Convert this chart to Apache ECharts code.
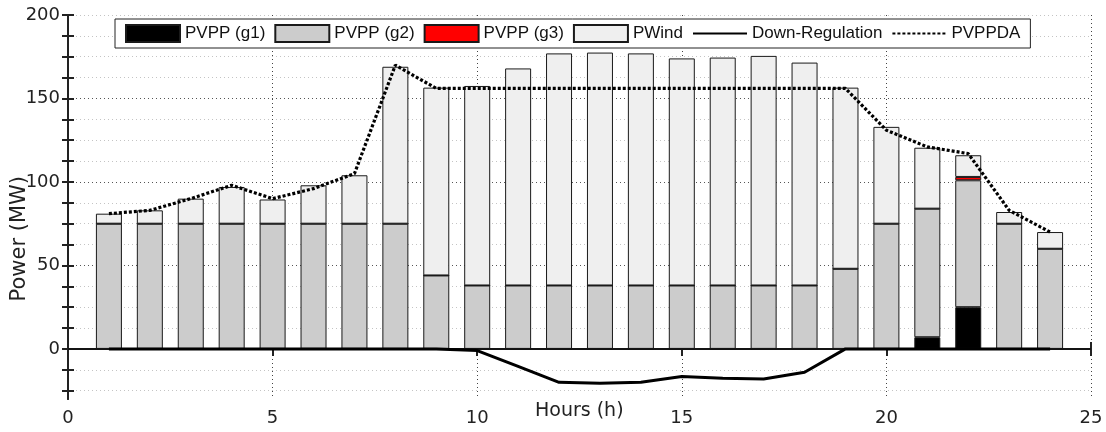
<!DOCTYPE html>
<html>
<head>
<meta charset="utf-8">
<script src="https://cdn.jsdelivr.net/npm/echarts@6/dist/echarts.min.js"></script>
<style>html,body{margin:0;padding:0;background:#fff;}#c{width:1106px;height:432px;}</style>
</head>
<body>
<div id="c"></div>
<script>
const hours = [1,2,3,4,5,6,7,8,9,10,11,12,13,14,15,16,17,18,19,20,21,22,23,24];
const pvppG1 = [0,0,0,0,0,0,0,0,0,0,0,0,0,0,0,0,0,0,0,0,7,25,0,0];
const pvppG2 = [75,75,75,75,75,75,75,75,44,38,38,38,38,38,38,38,38,38,48,75,77,76,75,60];
const pvppG3 = [0,0,0,0,0,0,0,0,0,0,0,0,0,0,0,0,0,0,0,0,0,2,0,0];
const pWind  = [6,8,15,22,14.5,23,29,94,112.5,119.5,130,139,139.5,139,136,136.5,137.5,133.5,108.5,58,36.5,13,7,10];
const downReg = [0,0,0,0,0,0,0,0,0,-1,-10.5,-20,-20.5,-20,-16.5,-17.5,-18,-14,0,0,0,0,0,0];
const pvppda = [81,83,90,98,90,96,105,170,156,156,156,156,156,156,156,156,156,156,156,131,121,117,83,70];
const xSlots = [0,1,2,3,4,5,6,7,8,9,10,11,12,13,14,15,16,17,18,19,20,21,22,23,24,25];
const yLabels = [0,50,100,150,200];
const yMinorTicks = [-25,-12.5,0,12.5,25,37.5,50,62.5,75,87.5,100,112.5,125,137.5,150,162.5,175,187.5,200];
const yMajorGrid = [50,100,150];

// bars sit on a hidden category axis whose slots 0..25 coincide with the hour scale
const slot = arr => xSlots.map(s => { const i = hours.indexOf(s); return i < 0 ? '-' : arr[i]; });
const pair = arr => hours.map((h,i)=>[h, arr[i]]);
const TF = 'DejaVu Sans';
const chart = echarts.init(document.getElementById('c'), null, {renderer:'canvas'});
const bar = (name, arr, color) => ({type:'bar', name, stack:'p', barWidth:26, xAxisIndex:2, yAxisIndex:0,
  data:slot(arr), itemStyle:{color, borderColor:'#1a1a1a', borderWidth:1}});
const g1 = bar('PVPP (g1)', pvppG1, '#000000');
g1.markLine = {silent:true, symbol:'none', label:{show:false}, lineStyle:{color:'#111', width:1.5, type:'solid'}, data:[{yAxis:0}]};
chart.setOption({
  animation:false,
  grid:{left:68, right:15, top:15, bottom:33, outerBoundsMode:'none', containLabel:false},
  legend:{
    left:115, top:19, orient:'horizontal',
    itemWidth:54, itemHeight:17, itemGap:9,
    padding:[5,10,5,10],
    borderColor:'#222', borderWidth:1, backgroundColor:'#fff',
    textStyle:{fontFamily:'Liberation Sans', fontSize:17, color:'#111'},
    data:[
      {name:'PVPP (g1)', icon:'rect'},
      {name:'PVPP (g2)', icon:'rect'},
      {name:'PVPP (g3)', icon:'rect'},
      {name:'PWind', icon:'rect'},
      {name:'Down-Regulation', itemStyle:{opacity:0}},
      {name:'PVPPDA', itemStyle:{opacity:0}}
    ]
  },
  xAxis:[
    {type:'value', min:0, max:25, interval:5, position:'bottom',
     axisLine:{show:true, lineStyle:{color:'#222', width:2}},
     axisTick:{show:true, inside:true, length:7, lineStyle:{color:'#222', width:2}},
     axisLabel:{fontFamily:TF, fontSize:18, color:'#222', margin:10},
     splitLine:{show:true, lineStyle:{color:'#444', type:[1,3], width:1}}},
    {type:'value', min:0, max:25, interval:5, position:'top',
     axisLine:{show:true, lineStyle:{color:'#222', width:2}},
     axisTick:{show:true, inside:true, length:7, lineStyle:{color:'#222', width:2}},
     axisLabel:{show:false}, splitLine:{show:false}},
    {type:'category', data:xSlots, boundaryGap:false, position:'bottom', show:false}
  ],
  yAxis:[
    {type:'value', min:-30, max:200, position:'left',
     axisLine:{show:true, lineStyle:{color:'#222', width:2}},
     axisTick:{show:true, inside:true, length:6, customValues:yMinorTicks, lineStyle:{color:'#222', width:2}},
     axisLabel:{customValues:yLabels, fontFamily:TF, fontSize:18, color:'#222', margin:8},
     splitLine:{show:true, lineStyle:{color:'#c4c4c4', type:[1,3], width:1}}},
    {type:'value', min:-30, max:200, position:'right',
     axisLine:{show:true, lineStyle:{color:'#222', width:2}},
     axisTick:{show:true, inside:true, length:6, customValues:yMinorTicks, lineStyle:{color:'#222', width:2}},
     axisLabel:{show:false}, splitLine:{show:false}},
    {type:'value', min:-30, max:200, position:'left',
     axisLine:{show:false}, axisTick:{show:false, customValues:yMajorGrid}, axisLabel:{show:false},
     splitLine:{show:true, lineStyle:{color:'#555', type:[1,3], width:1}}}
  ],
  graphic:[
    {type:'text', left:9, top:176, rotation:Math.PI/2,
     style:{text:'Power (MW)', fontFamily:TF, fontSize:21, fill:'#222'}},
    {type:'text', left:535, top:402,
     style:{text:'Hours (h)', fontFamily:TF, fontSize:19, fill:'#222'}}
  ],
  series:[
    g1,
    bar('PVPP (g2)', pvppG2, '#cccccc'),
    bar('PVPP (g3)', pvppG3, '#ff0000'),
    bar('PWind', pWind, '#efefef'),
    {name:'Down-Regulation', type:'line', data:pair(downReg), symbol:'none', z:5, xAxisIndex:0, yAxisIndex:0,
     itemStyle:{color:'#000'}, lineStyle:{color:'#000', width:3}},
    {name:'PVPPDA', type:'line', data:pair(pvppda), symbol:'none', z:6, xAxisIndex:0, yAxisIndex:0,
     itemStyle:{color:'#000'}, lineStyle:{color:'#000', width:3.2, type:[3,2]}}
  ]
});
</script>
</body>
</html>
